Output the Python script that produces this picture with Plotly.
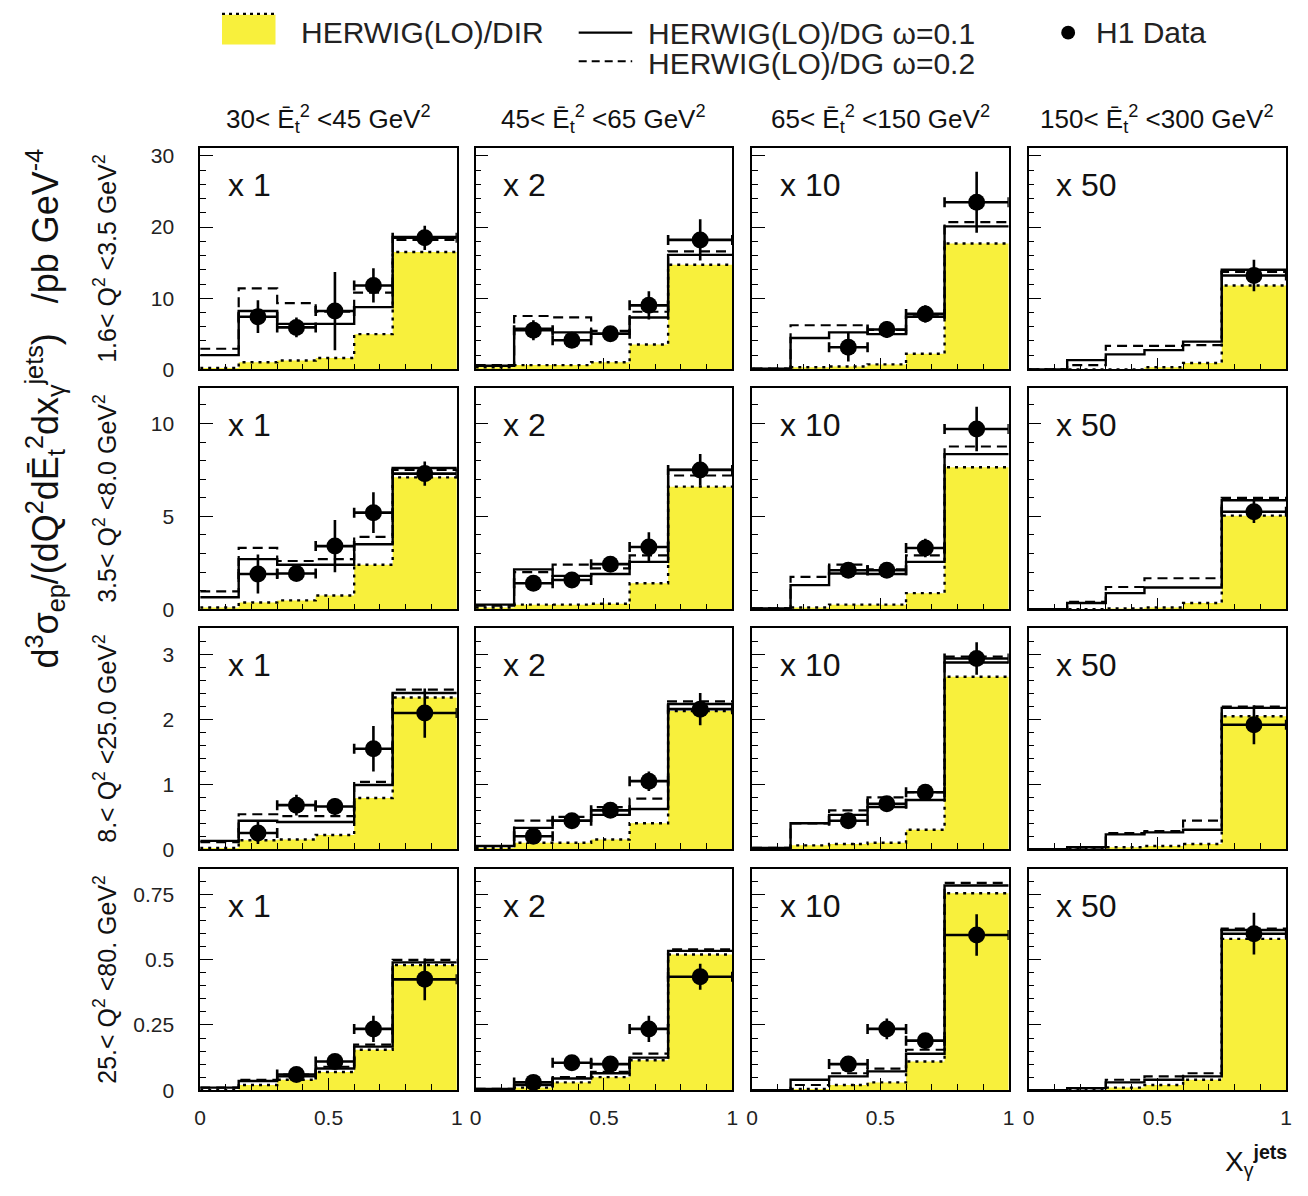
import plotly.graph_objects as go

# ---------------- data ----------------
XG_EDGES = [0.0, 0.15, 0.30, 0.45, 0.60, 0.75, 1.0]
XG_CENTERS = [0.075, 0.225, 0.375, 0.525, 0.675, 0.875]
XG_HALFWIDTH = [0.075, 0.075, 0.075, 0.075, 0.075, 0.125]

ET2_LABELS = [
    "30< Ē<sub>t</sub><sup>2</sup> <45 GeV<sup>2</sup>",
    "45< Ē<sub>t</sub><sup>2</sup> <65 GeV<sup>2</sup>",
    "65< Ē<sub>t</sub><sup>2</sup> <150 GeV<sup>2</sup>",
    "150< Ē<sub>t</sub><sup>2</sup> <300 GeV<sup>2</sup>",
]
Q2_LABELS = [
    "1.6< Q<sup>2</sup> <3.5 GeV<sup>2</sup>",
    "3.5< Q<sup>2</sup> <8.0 GeV<sup>2</sup>",
    "8.< Q<sup>2</sup> <25.0 GeV<sup>2</sup>",
    "25.< Q<sup>2</sup> <80. GeV<sup>2</sup>",
]
SCALE_LABELS = ["x 1", "x 2", "x 10", "x 50"]

# per Q2 row: one list of 6 x_gamma bins per Et2 column (scaled values as plotted)
DIR_Q1 = [[0.2, 1.0, 1.25, 1.6, 4.95, 16.5],
          [0.3, 0.6, 0.6, 1.0, 3.5, 14.7],
          [0.05, 0.3, 0.4, 0.7, 2.2, 17.7],
          [0.0, 0.0, 0.0, 0.3, 0.9, 11.8]]
DG01_Q1 = [[2.0, 8.2, 6.4, 6.4, 8.75, 18.6],
           [0.5, 5.7, 5.2, 5.0, 7.3, 16.1],
           [0.1, 4.4, 5.2, 4.95, 7.4, 20.1],
           [0.0, 1.3, 2.1, 2.7, 3.9, 14.0]]
DG02_Q1 = [[2.9, 11.4, 9.3, 8.1, 10.8, 18.2],
           [0.6, 7.5, 7.3, 5.4, 8.1, 16.6],
           [0.1, 6.2, 6.2, 5.55, 7.7, 20.7],
           [0.0, 0.6, 3.3, 3.3, 3.4, 13.7]]
DATA_Q1 = [[None, 7.4, 5.9, 8.2, 11.8, 18.5],
           [None, 5.5, 4.1, 5.0, 9.0, 18.2],
           [None, None, 3.1, 5.6, 7.8, 23.5],
           [None, None, None, None, None, 13.2]]
ERR_Q1 = [[None, 2.3, 1.4, 5.5, 2.4, 1.7],
          [None, 1.4, 1.0, 1.0, 2.0, 2.9],
          [None, None, 2.0, 1.2, 1.2, 4.3],
          [None, None, None, None, None, 2.2]]

DIR_Q2 = [[0.1, 0.37, 0.48, 0.74, 2.4, 7.1],
          [0.1, 0.25, 0.25, 0.3, 1.4, 6.6],
          [0.05, 0.1, 0.25, 0.25, 0.87, 7.64],
          [0.0, 0.0, 0.05, 0.1, 0.34, 5.04]]
DG01_Q2 = [[0.65, 2.7, 2.4, 2.4, 3.5, 7.6],
           [0.25, 2.15, 1.8, 1.9, 2.55, 7.5],
           [0.05, 1.3, 1.93, 1.9, 2.55, 8.35],
           [0.0, 0.34, 0.87, 1.17, 1.17, 5.87]]
DG02_Q2 = [[0.96, 3.3, 2.6, 2.7, 3.9, 7.5],
           [0.2, 2.0, 2.4, 2.2, 2.9, 7.2],
           [0.05, 1.75, 2.4, 2.15, 2.9, 8.76],
           [0.0, 0.4, 1.2, 1.67, 1.67, 6.0]]
DATA_Q2 = [[None, 1.9, 1.93, 3.4, 5.2, 7.3],
           [None, 1.4, 1.58, 2.43, 3.35, 7.5],
           [None, None, 2.1, 2.1, 3.3, 9.7],
           [None, None, None, None, None, 5.25]]
ERR_Q2 = [[None, 1.05, 0.3, 1.4, 1.1, 0.65],
          [None, 0.4, 0.25, 0.4, 0.8, 0.85],
          [None, None, 0.25, 0.35, 0.5, 1.2],
          [None, None, None, None, None, 0.6]]

DIR_Q3 = [[0.02, 0.14, 0.15, 0.22, 0.79, 2.34],
          [0.02, 0.1, 0.1, 0.15, 0.4, 2.13],
          [0.0, 0.06, 0.08, 0.1, 0.3, 2.66],
          [0.0, 0.0, 0.03, 0.05, 0.08, 2.05]]
DG01_Q3 = [[0.13, 0.44, 0.42, 0.42, 0.99, 2.41],
           [0.05, 0.33, 0.44, 0.53, 0.62, 2.24],
           [0.02, 0.4, 0.53, 0.65, 0.76, 2.88],
           [0.0, 0.03, 0.23, 0.26, 0.3, 2.18]]
DG02_Q3 = [[0.11, 0.54, 0.51, 0.51, 1.04, 2.46],
           [0.05, 0.44, 0.5, 0.65, 0.78, 2.28],
           [0.02, 0.4, 0.6, 0.8, 0.88, 2.97],
           [0.0, 0.03, 0.25, 0.28, 0.44, 2.2]]
DATA_Q3 = [[None, 0.25, 0.68, 0.66, 1.55, 2.1],
           [None, 0.2, 0.44, 0.6, 1.05, 2.16],
           [None, None, 0.44, 0.7, 0.88, 2.94],
           [None, None, None, None, None, 1.92]]
ERR_Q3 = [[None, 0.17, 0.16, 0.13, 0.35, 0.38],
          [None, 0.05, 0.05, 0.08, 0.15, 0.25],
          [None, None, 0.05, 0.08, 0.06, 0.25],
          [None, None, None, None, None, 0.3]]

DIR_Q4 = [[0.0, 0.02, 0.04, 0.07, 0.155, 0.48],
          [0.0, 0.01, 0.03, 0.05, 0.115, 0.52],
          [0.0, 0.005, 0.02, 0.03, 0.11, 0.755],
          [0.0, 0.0, 0.01, 0.02, 0.04, 0.58]]
DG01_Q4 = [[0.01, 0.035, 0.053, 0.083, 0.167, 0.49],
           [0.005, 0.02, 0.045, 0.065, 0.125, 0.534],
           [0.0, 0.04, 0.053, 0.072, 0.14, 0.785],
           [0.0, 0.008, 0.03, 0.04, 0.053, 0.614]]
DG02_Q4 = [[0.01, 0.04, 0.06, 0.09, 0.175, 0.5],
           [0.005, 0.02, 0.05, 0.07, 0.14, 0.54],
           [0.0, 0.02, 0.065, 0.083, 0.155, 0.795],
           [0.0, 0.008, 0.04, 0.053, 0.065, 0.62]]
DATA_Q4 = [[None, None, 0.06, 0.11, 0.235, 0.425],
           [None, 0.03, 0.105, 0.1, 0.235, 0.435],
           [None, None, 0.1, 0.235, 0.19, 0.595],
           [None, None, None, None, None, 0.6]]
ERR_Q4 = [[None, None, 0.01, 0.015, 0.05, 0.08],
          [None, 0.01, 0.03, 0.015, 0.05, 0.05],
          [None, None, 0.02, 0.04, 0.02, 0.08],
          [None, None, None, None, None, 0.08]]

ROWS = [
    (DIR_Q1, DG01_Q1, DG02_Q1, DATA_Q1, ERR_Q1),
    (DIR_Q2, DG01_Q2, DG02_Q2, DATA_Q2, ERR_Q2),
    (DIR_Q3, DG01_Q3, DG02_Q3, DATA_Q3, ERR_Q3),
    (DIR_Q4, DG01_Q4, DG02_Q4, DATA_Q4, ERR_Q4),
]

# axis settings per row
Y_MAX = [31.1, 11.9, 3.41, 0.848]
Y_DTICK = [10, 5, 1, 0.25]
Y_MINOR = [2, 1, 0.2, 0.05]

# ---------------- layout geometry ----------------
W, H = 1308, 1196
COL_PX = [(196, 455), (474, 733), (753, 1012), (1032, 1292)]
ROW_PX = [(146, 370), (389, 613), (632, 856), (876, 1100)]
FONT = "Liberation Sans, Arial, sans-serif"
YELLOW = "#f8f03c"

fig = go.Figure()
layout = {}
annotations = []

for r in range(4):
    DIRr, DG01r, DG02r, DATAr, ERRr = ROWS[r]
    for c in range(4):
        k = r * 4 + c + 1
        xa = "x" if k == 1 else f"x{k}"
        ya = "y" if k == 1 else f"y{k}"

        d = DIRr[c]
        fig.add_trace(go.Scatter(
            x=XG_EDGES, y=d + [d[-1]], mode="lines",
            line=dict(shape="hv", color="black", width=2.4, dash="3px,5px"),
            fill="tozeroy", fillcolor=YELLOW,
            xaxis=xa, yaxis=ya, showlegend=False, hoverinfo="skip"))
        d2 = DG02r[c]
        fig.add_trace(go.Scatter(
            x=XG_EDGES, y=d2 + [d2[-1]], mode="lines",
            line=dict(shape="hv", color="black", width=2.2, dash="10px,6px"),
            xaxis=xa, yaxis=ya, showlegend=False, hoverinfo="skip"))
        d1 = DG01r[c]
        fig.add_trace(go.Scatter(
            x=XG_EDGES, y=d1 + [d1[-1]], mode="lines",
            line=dict(shape="hv", color="black", width=2.4),
            xaxis=xa, yaxis=ya, showlegend=False, hoverinfo="skip"))

        vals = DATAr[c]
        errs = ERRr[c]
        idx = [i for i, v in enumerate(vals) if v is not None]
        fig.add_trace(go.Scatter(
            x=[XG_CENTERS[i] for i in idx],
            y=[vals[i] for i in idx],
            mode="markers",
            marker=dict(color="black", size=17, symbol="circle"),
            error_y=dict(type="data", array=[errs[i] for i in idx],
                         color="black", thickness=2.6, width=0),
            error_x=dict(type="data", array=[XG_HALFWIDTH[i] for i in idx],
                         color="black", thickness=2.6, width=5),
            xaxis=xa, yaxis=ya, showlegend=False, hoverinfo="skip"))

        x0, x1 = COL_PX[c]
        y0, y1 = ROW_PX[r]
        xname = "xaxis" if k == 1 else f"xaxis{k}"
        yname = "yaxis" if k == 1 else f"yaxis{k}"
        layout[xname] = dict(
            domain=[x0 / W, x1 / W], anchor=ya, range=[0, 1],
            showline=True, linecolor="black", linewidth=1.6, mirror=True,
            ticks="inside", ticklen=12, tickwidth=1.3, tickcolor="black",
            tickmode="linear", tick0=0, dtick=0.5,
            showticklabels=(r == 3), ticklabelstandoff=8,
            tickfont=dict(family=FONT, size=21, color="#222"),
            showgrid=False, zeroline=False,
            minor=dict(ticks="inside", tick0=0, dtick=0.1, ticklen=6,
                       tickwidth=1.2, tickcolor="black", showgrid=False),
        )
        layout[yname] = dict(
            domain=[1 - y1 / H, 1 - y0 / H], anchor=xa, range=[0, Y_MAX[r]],
            showline=True, linecolor="black", linewidth=1.6, mirror=True,
            ticks="inside", ticklen=13, tickwidth=1.3, tickcolor="black",
            tickmode="linear", tick0=0, dtick=Y_DTICK[r],
            showticklabels=(c == 0), ticklabelstandoff=20,
            tickfont=dict(family=FONT, size=21, color="#222"),
            showgrid=False, zeroline=False,
            minor=dict(ticks="inside", tick0=0, dtick=Y_MINOR[r], ticklen=6,
                       tickwidth=1.2, tickcolor="black", showgrid=False),
        )
        annotations.append(dict(
            text=SCALE_LABELS[c], xref=f"{xa} domain", yref=f"{ya} domain",
            x=0.1, y=0.835, xanchor="left", yanchor="middle", showarrow=False,
            font=dict(family=FONT, size=32, color="#111")))

# column headers
for c in range(4):
    x0, x1 = COL_PX[c]
    annotations.append(dict(
        text=ET2_LABELS[c], xref="paper", yref="paper",
        x=(x0 + x1) / 2 / W, y=1 - 116 / H, xanchor="center", yanchor="middle",
        showarrow=False, font=dict(family=FONT, size=26, color="#111")))

# row labels
for r in range(4):
    y0, y1 = ROW_PX[r]
    annotations.append(dict(
        text=Q2_LABELS[r], xref="paper", yref="paper",
        x=100 / W, y=1 - (y0 + y1) / 2 / H, xanchor="center", yanchor="middle",
        textangle=-90, showarrow=False,
        font=dict(family=FONT, size=25, color="#111")))

# global y title
annotations.append(dict(
    text="d<sup>3</sup>σ<sub>ep</sub>/(dQ<sup>2</sup>dĒ<sub>t</sub><sup>2</sup>dx<sub>γ</sub><sup>jets</sup>)   /pb GeV<sup>-4</sup>",
    xref="paper", yref="paper", x=40 / W, y=1 - 410 / H,
    xanchor="center", yanchor="middle", textangle=-90, showarrow=False,
    font=dict(family=FONT, size=36, color="#111")))

# x title
annotations.append(dict(
    text="X<sub>γ</sub><sup><b>jets</b></sup>", xref="paper", yref="paper",
    x=1262 / W, y=1 - 1172 / H, xanchor="center", yanchor="middle",
    showarrow=False, font=dict(family=FONT, size=28, color="#111")))

# legend (drawn as decoration)
LEG_FONT = dict(family=FONT, size=30, color="#222")
annotations += [
    dict(text="HERWIG(LO)/DIR", xref="paper", yref="paper", x=296 / W, y=1 - 29 / H,
         xanchor="left", yanchor="middle", showarrow=False, font=LEG_FONT),
    dict(text="HERWIG(LO)/DG ω=0.1", xref="paper", yref="paper", x=646 / W, y=1 - 30 / H,
         xanchor="left", yanchor="middle", showarrow=False, font=LEG_FONT),
    dict(text="HERWIG(LO)/DG ω=0.2", xref="paper", yref="paper", x=646 / W, y=1 - 60 / H,
         xanchor="left", yanchor="middle", showarrow=False, font=LEG_FONT),
    dict(text="H1 Data", xref="paper", yref="paper", x=1098 / W, y=1 - 29 / H,
         xanchor="left", yanchor="middle", showarrow=False, font=LEG_FONT),
]
shapes = [
    dict(type="rect", xref="paper", yref="paper", x0=218 / W, x1=272 / W,
         y0=1 - 41 / H, y1=1 - 11 / H, fillcolor=YELLOW, line=dict(width=0)),
    dict(type="line", xref="paper", yref="paper", x0=218 / W, x1=272 / W,
         y0=1 - 10 / H, y1=1 - 10 / H, line=dict(color="black", width=2.4, dash="3px,4px")),
    dict(type="line", xref="paper", yref="paper", x0=578 / W, x1=632 / W,
         y0=1 - 29 / H, y1=1 - 29 / H, line=dict(color="black", width=2.4)),
    dict(type="line", xref="paper", yref="paper", x0=578 / W, x1=632 / W,
         y0=1 - 58 / H, y1=1 - 58 / H, line=dict(color="black", width=2.2, dash="8px,5px")),
    dict(type="circle", xref="paper", yref="paper", x0=1065 / W, x1=1079 / W,
         y0=1 - 36 / H, y1=1 - 22 / H, fillcolor="black", line=dict(width=0)),
]

fig.update_layout(
    width=W, height=H, margin=dict(l=0, r=0, t=0, b=0),
    paper_bgcolor="white", plot_bgcolor="white",
    annotations=annotations, shapes=shapes, showlegend=False,
    **layout)

fig.write_html("out.html")
